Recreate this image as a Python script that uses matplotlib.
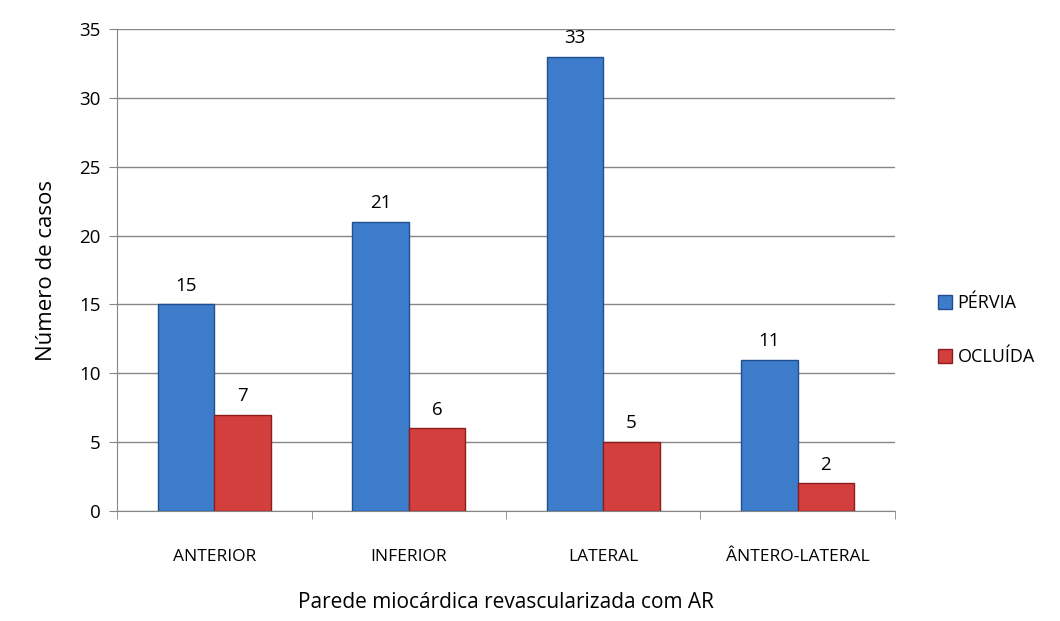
import matplotlib
matplotlib.use('Agg')
import matplotlib.pyplot as plt
import numpy as np

categorias = ['ANTERIOR', 'INFERIOR', 'LATERAL', 'ÂNTERO-LATERAL']
pervia = [15, 21, 33, 11]
ocluida = [7, 6, 5, 2]
series = ['PÉRVIA', 'OCLUÍDA']

plt.rcParams['font.family'] = ['Open Sans', 'DejaVu Sans']
grid_col = '#868686'

fig = plt.figure(figsize=(10.6, 6.21), dpi=100)
ax = fig.add_axes([0.1104, 0.1771, 0.7339, 0.7762])

x = np.arange(len(categorias))
w = 0.29
b1 = ax.bar(x - w/2, pervia, w, color='#3d7cca', edgecolor='#1f4f8f', linewidth=1.0,
            label=series[0], zorder=3)
b2 = ax.bar(x + w/2, ocluida, w, color='#d23f3d', edgecolor='#8a1f1d', linewidth=1.0,
            label=series[1], zorder=3)

for bars in (b1, b2):
    for r in bars:
        ax.annotate(f'{int(r.get_height())}', (r.get_x() + r.get_width()/2, r.get_height()),
                    xytext=(0, 7), textcoords='offset points', ha='center', va='bottom',
                    fontsize=13.5)

ax.set_xlim(-0.5, len(categorias) - 0.5)
ax.set_ylim(0, 35)
ax.set_yticks(range(0, 36, 5))
ax.set_xticks(x)
ax.set_xticklabels(categorias, fontsize=12.5)
ax.set_xticks(np.arange(-0.5, len(categorias), 1), minor=True)
ax.tick_params(axis='x', which='major', length=0, pad=27)
ax.tick_params(axis='x', which='minor', length=6, color=grid_col, direction='out')
ax.tick_params(axis='y', length=6, color=grid_col, labelsize=13.5, pad=6)
ax.yaxis.grid(True, color=grid_col, linewidth=1, zorder=0)
for s in ['top', 'right']:
    ax.spines[s].set_visible(False)
for s in ['left', 'bottom']:
    ax.spines[s].set_color(grid_col)

ax.set_ylabel('Número de casos', fontsize=16, labelpad=16)
ax.set_xlabel('Parede miocárdica revascularizada com AR', fontsize=15, labelpad=20)

ax.legend(loc='center left', bbox_to_anchor=(1.035, 0.375), frameon=False, fontsize=13,
          handlelength=0.75, handleheight=0.75, handletextpad=0.3, labelspacing=2.0)

fig.savefig('out.png', dpi=100)
